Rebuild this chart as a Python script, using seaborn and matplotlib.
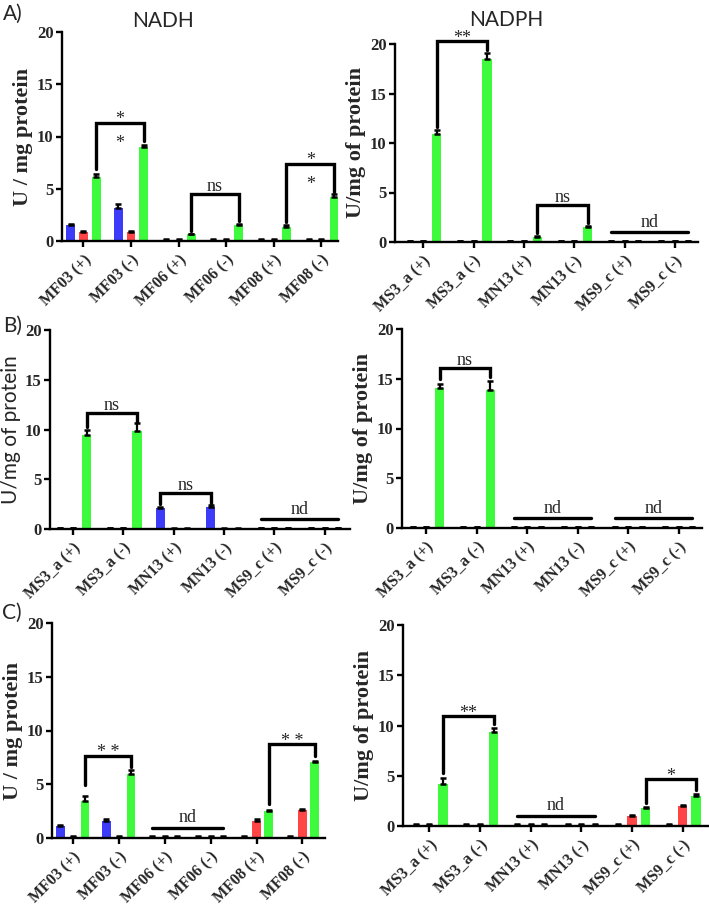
import matplotlib.pyplot as plt
import pandas as pd
import seaborn as sns

# sample names (x categories)
mf_samples = ['MF03 (+)', 'MF03 (-)', 'MF06 (+)', 'MF06 (-)', 'MF08 (+)', 'MF08 (-)']
ms_samples = ['MS3_a (+)', 'MS3_a (-)', 'MN13 (+)', 'MN13 (-)', 'MS9_c (+)', 'MS9_c (-)']
series_names = ['Series 1', 'Series 2', 'Series 3']
series_colors = ['#3c3cf8', '#ff4545', '#3dfa3d']

# A) NADH
a_nadh_blue = [1.5, 3.2, 0.1, 0.1, 0.1, 0.1]
a_nadh_red = [0.85, 0.9, 0.1, 0.1, 0.1, 0.1]
a_nadh_green = [6.1, 9.0, 0.65, 1.55, 1.3, 4.2]
a_nadh_blue_err = [0.1, 0.3, 0.05, 0.05, 0.05, 0.05]
a_nadh_red_err = [0.1, 0.1, 0.05, 0.05, 0.05, 0.05]
a_nadh_green_err = [0.3, 0.15, 0.05, 0.08, 0.25, 0.3]

# A) NADPH
a_nadph_blue = [0.1, 0.1, 0.1, 0.1, 0.1, 0.1]
a_nadph_red = [0.1, 0.1, 0.1, 0.1, 0.1, 0.1]
a_nadph_green = [10.9, 18.5, 0.55, 1.55, 0.1, 0.1]
a_nadph_blue_err = [0.05, 0.05, 0.05, 0.05, 0.05, 0.05]
a_nadph_red_err = [0.05, 0.05, 0.05, 0.05, 0.05, 0.05]
a_nadph_green_err = [0.45, 0.6, 0.08, 0.08, 0.05, 0.05]

# B) NADH
b_nadh_blue = [0.1, 0.1, 2.1, 2.2, 0.1, 0.1]
b_nadh_red = [0.1, 0.1, 0.05, 0.05, 0.1, 0.1]
b_nadh_green = [9.4, 9.8, 0.05, 0.05, 0.1, 0.1]
b_nadh_blue_err = [0.05, 0.05, 0.15, 0.2, 0.05, 0.05]
b_nadh_red_err = [0.05, 0.05, 0.05, 0.05, 0.05, 0.05]
b_nadh_green_err = [0.5, 0.85, 0.05, 0.05, 0.05, 0.05]

# B) NADPH
b_nadph_blue = [0.1, 0.1, 0.1, 0.1, 0.1, 0.1]
b_nadph_red = [0.1, 0.1, 0.1, 0.1, 0.1, 0.1]
b_nadph_green = [14.1, 13.9, 0.1, 0.1, 0.1, 0.1]
b_nadph_blue_err = [0.05, 0.05, 0.05, 0.05, 0.05, 0.05]
b_nadph_red_err = [0.05, 0.05, 0.05, 0.05, 0.05, 0.05]
b_nadph_green_err = [0.35, 0.9, 0.05, 0.05, 0.05, 0.05]

# C) NADH
c_nadh_blue = [1.1, 1.6, 0.1, 0.1, 0.1, 0.1]
c_nadh_red = [0.1, 0.1, 0.1, 0.1, 1.6, 2.6]
c_nadh_green = [3.45, 5.95, 0.1, 0.1, 2.55, 7.05]
c_nadh_blue_err = [0.15, 0.2, 0.05, 0.05, 0.05, 0.05]
c_nadh_red_err = [0.05, 0.05, 0.05, 0.05, 0.2, 0.1]
c_nadh_green_err = [0.5, 0.35, 0.05, 0.05, 0.1, 0.12]

# C) NADPH
c_nadph_blue = [0.1, 0.1, 0.1, 0.1, 0.1, 0.1]
c_nadph_red = [0.1, 0.1, 0.1, 0.1, 1.0, 2.0]
c_nadph_green = [4.2, 9.35, 0.1, 0.1, 1.8, 3.0]
c_nadph_blue_err = [0.05, 0.05, 0.05, 0.05, 0.05, 0.05]
c_nadph_red_err = [0.05, 0.05, 0.05, 0.05, 0.1, 0.1]
c_nadph_green_err = [0.55, 0.4, 0.05, 0.05, 0.1, 0.2]

# significance marks: (kind, cat1, series1, cat2, series2, y_line, y_left, y_right, text_above, text_below)
a_nadh_marks = [('br', 0, 2, 1, 2, 11.3, 6.9, 9.6, '*', '*'),
                ('br', 2, 2, 3, 2, 4.45, 1.0, 1.9, 'ns', ''),
                ('br', 4, 2, 5, 2, 7.4, 1.8, 4.7, '*', '*')]
a_nadph_marks = [('br', 0, 2, 1, 2, 20.3, 11.6, 19.4, '**', ''),
                 ('br', 2, 2, 3, 2, 3.7, 0.9, 1.9, 'ns', ''),
                 ('nd', 4, 0, 5, 2, 1.0, 0, 0, 'nd', '')]
b_nadh_marks = [('br', 0, 2, 1, 2, 11.7, 10.3, 10.8, 'ns', ''),
                ('br', 2, 0, 3, 0, 3.6, 2.5, 2.6, 'ns', ''),
                ('nd', 4, 0, 5, 2, 1.0, 0, 0, 'nd', '')]
b_nadph_marks = [('br', 0, 2, 1, 2, 16.1, 15.0, 15.2, 'ns', ''),
                 ('nd', 2, 0, 3, 2, 1.0, 0, 0, 'nd', ''),
                 ('nd', 4, 0, 5, 2, 1.0, 0, 0, 'nd', '')]
c_nadh_marks = [('br', 0, 2, 1, 2, 7.65, 4.9, 6.6, '* *', ''),
                ('nd', 2, 0, 3, 2, 0.9, 0, 0, 'nd', ''),
                ('br', 4, 2, 5, 2, 8.7, 3.2, 7.6, '* *', '')]
c_nadph_marks = [('br', 0, 2, 1, 2, 10.9, 5.3, 10.1, '**', ''),
                 ('nd', 2, 0, 3, 2, 1.0, 0, 0, 'nd', ''),
                 ('br', 4, 2, 5, 2, 4.65, 2.25, 3.6, '*', '')]

sns.set_style('ticks')
SERIF = 'Liberation Serif'
SANS = 'Lato'

W, H = 709, 906
fig = plt.figure(figsize=(W / 100, H / 100), dpi=100)


def make_ax(l, t, r, b):
    return fig.add_axes([l / W, 1 - b / H, (r - l) / W, (b - t) / H])


def text_offset(t):
    # asterisks sit high in the glyph box, so their baseline goes lower
    if '*' in t:
        return -0.15
    if t == 'nd':
        return 0.55
    return 0.3


def draw_panel(ax, samples, vals, errs, marks, ylabel, xlim, ylab_font=SERIF, ylab_weight='bold'):
    rows = []
    for s, v in zip(series_names, vals):
        for name, val in zip(samples, v):
            rows.append({'sample': name, 'series': s, 'value': val})
    df = pd.DataFrame(rows)
    sns.barplot(data=df, x='sample', y='value', hue='series', order=samples,
                hue_order=series_names, palette=series_colors, saturation=1,
                width=0.8, gap=0.3, errorbar=None, legend=False, linewidth=0, ax=ax)
    bars = list(ax.containers)
    # error bars (upper only) on top of each bar
    for h, cont in enumerate(bars):
        xs = [b.get_x() + b.get_width() / 2 for b in cont]
        ys = [b.get_height() for b in cont]
        ax.errorbar(xs, ys, yerr=[[0] * len(ys), errs[h]], fmt='none',
                    ecolor='black', elinewidth=1.6, capsize=2.4, capthick=1.8, zorder=3)

    def bx(i, h):
        b = bars[h][i]
        return b.get_x() + b.get_width() / 2

    for kind, i1, h1, i2, h2, y, yl, yr, t_up, t_dn in marks:
        x1, x2 = bx(i1, h1), bx(i2, h2)
        if kind == 'br':
            ax.plot([x1, x1, x2, x2], [yl, y, y, yr], color='black', lw=2.4,
                    solid_joinstyle='miter', clip_on=False, zorder=4)
        else:
            ax.plot([x1, x2], [y, y], color='black', lw=2.4, clip_on=False, zorder=4)
        ax.text((x1 + x2) / 2, y + text_offset(t_up), t_up, ha='center', va='baseline',
                fontsize=13, family=SERIF, clip_on=False)
        if t_dn:
            ax.text((x1 + x2) / 2, y - 2.4, t_dn, ha='center', va='baseline',
                    fontsize=13, family=SERIF)

    ax.set_xlim(*xlim)
    ax.set_ylim(0, 20)
    ax.set_yticks([0, 5, 10, 15, 20])
    ax.set_xlabel('')
    ax.set_ylabel(ylabel, fontsize=16 if ylab_weight == 'bold' else 15,
                  fontweight=ylab_weight, family=ylab_font, labelpad=3)
    sns.despine(ax=ax)
    for sp in ['left', 'bottom']:
        ax.spines[sp].set_linewidth(1.7)
        ax.spines[sp].set_color('black')
    ax.tick_params(axis='both', length=4, width=1.7, color='black', pad=2)
    for lab in ax.get_yticklabels():
        lab.set_fontfamily(SERIF)
        lab.set_fontweight('bold')
        lab.set_fontsize(12)
    ax.set_xticks(range(len(samples)))
    ax.set_xticklabels(samples, rotation=45, ha='right', rotation_mode='anchor',
                       fontsize=11.5, fontweight='bold', family=SERIF)
    ax.tick_params(axis='x', pad=4)


ax1 = make_ax(62, 32, 338, 241)
draw_panel(ax1, mf_samples, [a_nadh_blue, a_nadh_red, a_nadh_green],
           [a_nadh_blue_err, a_nadh_red_err, a_nadh_green_err], a_nadh_marks,
           'U / mg protein', (-0.45, 5.35))
ax2 = make_ax(395, 44, 698, 242)
draw_panel(ax2, ms_samples, [a_nadph_blue, a_nadph_red, a_nadph_green],
           [a_nadph_blue_err, a_nadph_red_err, a_nadph_green_err], a_nadph_marks,
           'U/mg of protein', (-0.56, 5.46))
ax3 = make_ax(50, 330, 350, 529)
draw_panel(ax3, ms_samples, [b_nadh_blue, b_nadh_red, b_nadh_green],
           [b_nadh_blue_err, b_nadh_red_err, b_nadh_green_err], b_nadh_marks,
           'U/mg of protein', (-0.46, 5.5), ylab_font=SANS, ylab_weight='normal')
ax4 = make_ax(402, 329, 702, 528)
draw_panel(ax4, ms_samples, [b_nadph_blue, b_nadph_red, b_nadph_green],
           [b_nadph_blue_err, b_nadph_red_err, b_nadph_green_err], b_nadph_marks,
           'U/mg of protein', (-0.48, 5.46))
ax5 = make_ax(52, 623, 325, 838)
draw_panel(ax5, mf_samples, [c_nadh_blue, c_nadh_red, c_nadh_green],
           [c_nadh_blue_err, c_nadh_red_err, c_nadh_green_err], c_nadh_marks,
           'U / mg protein', (-0.45, 5.49))
ax6 = make_ax(403, 625, 708, 826)
draw_panel(ax6, ms_samples, [c_nadph_blue, c_nadph_red, c_nadph_green],
           [c_nadph_blue_err, c_nadph_red_err, c_nadph_green_err], c_nadph_marks,
           'U/mg of protein', (-0.52, 5.5))

# titles and panel letters
fig.text(163 / W, 1 - 21 / H, 'NADH', ha='center', va='center', fontsize=15, family=SANS)
fig.text(506 / W, 1 - 20 / H, 'NADPH', ha='center', va='center', fontsize=15, family=SANS)
fig.text(3 / W, 1 - 14 / H, 'A)', ha='left', va='center', fontsize=15, family=SANS)
fig.text(3 / W, 1 - 326 / H, 'B)', ha='left', va='center', fontsize=15, family=SANS)
fig.text(2 / W, 1 - 613 / H, 'C)', ha='left', va='center', fontsize=15, family=SANS)

fig.savefig('out.png', dpi=100)
